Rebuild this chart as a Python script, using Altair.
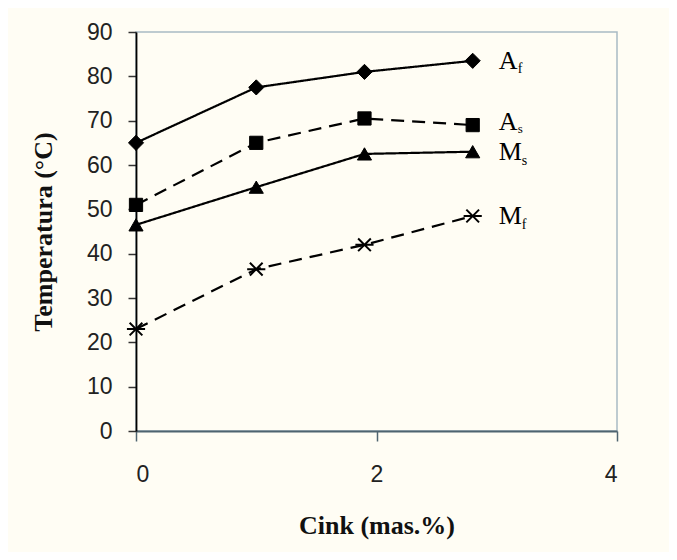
import altair as alt
import pandas as pd

# Data
cink = [0.0, 1.0, 1.9, 2.8]
series_names = ["Af", "As", "Ms", "Mf"]
af = [65.0, 77.5, 81.0, 83.5]
as_ = [51.0, 65.0, 70.5, 69.0]
ms = [46.5, 55.0, 62.5, 63.0]
mf = [23.0, 36.5, 42.0, 48.5]
label_letters = ["A", "A", "M", "M"]
label_subs = ["f", "s", "s", "f"]
x_ticks = [0, 2, 4]
y_ticks = [0, 10, 20, 30, 40, 50, 60, 70, 80, 90]

values = {"Af": af, "As": as_, "Ms": ms, "Mf": mf}
rows = []
for s in series_names:
    for x, y in zip(cink, values[s]):
        rows.append({"series": s, "x": x, "y": y})
df = pd.DataFrame(rows)

lab = pd.DataFrame({
    "series": series_names,
    "letter": label_letters,
    "sub": label_subs,
    "x": [cink[-1]] * 4,
    "y": [values[s][-1] for s in series_names],
})

asterisk = "M-1,0L1,0M-0.7,-0.7L0.7,0.7M-0.7,0.7L0.7,-0.7"

xenc = alt.X("x:Q", scale=alt.Scale(domain=[0, 4], nice=False),
             axis=alt.Axis(values=x_ticks, format="d", title="Cink (mas.%)", grid=False,
                           domainColor="#4f6470", tickColor="#4f6470",
                           tickSize=10, labelPadding=22, titlePadding=26))
yenc = alt.Y("y:Q", scale=alt.Scale(domain=[0, 90], nice=False),
             axis=alt.Axis(values=y_ticks, format="d", title="Temperatura (°C)", grid=False,
                           domainColor="black", tickColor="#333333",
                           tickSize=8, labelPadding=16, titlePadding=30))

lines = alt.Chart(df).mark_line(color="black", strokeWidth=2.2).encode(
    x=xenc, y=yenc,
    strokeDash=alt.StrokeDash("series:N",
                              scale=alt.Scale(domain=series_names,
                                              range=[[1, 0], [13, 8], [1, 0], [13, 8]]),
                              legend=None),
    detail="series:N",
)


def pts(series, shape, size, filled=True):
    base = alt.Chart(df).transform_filter(alt.datum.series == series)
    if filled:
        m = base.mark_point(shape=shape, size=size, filled=True, fill="black",
                            stroke="black", strokeWidth=1, opacity=1)
    else:
        m = base.mark_point(shape=shape, size=size, filled=False,
                            stroke="black", strokeWidth=2, opacity=1)
    return m.encode(x="x:Q", y="y:Q")


p_af = pts("Af", "diamond", 230)
p_as = pts("As", "square", 175)
p_ms = pts("Ms", "triangle-up", 200)
p_mf = pts("Mf", asterisk, 330, filled=False)

is_as = alt.datum.series == "As"
not_as = alt.datum.series != "As"

main_lab = alt.Chart(lab).transform_filter(not_as).mark_text(
    align="left", baseline="middle", dx=26,
    font="Liberation Serif", fontSize=26, color="black").encode(
    x="x:Q", y="y:Q", text="letter:N")

as_lab = alt.Chart(lab).transform_filter(is_as).mark_text(
    align="left", baseline="middle", dx=26, dy=-3,
    font="Liberation Serif", fontSize=26, color="black").encode(
    x="x:Q", y="y:Q", text="letter:N")

sub_af = alt.Chart(lab).transform_filter(alt.datum.series == "Af").mark_text(
    align="left", baseline="middle", dx=45, dy=8,
    font="Liberation Serif", fontSize=14, color="black").encode(
    x="x:Q", y="y:Q", text="sub:N")

sub_as = alt.Chart(lab).transform_filter(is_as).mark_text(
    align="left", baseline="middle", dx=45, dy=4,
    font="Liberation Serif", fontSize=13, color="black").encode(
    x="x:Q", y="y:Q", text="sub:N")

sub_m = alt.Chart(lab).transform_filter(alt.datum.letter == "M").mark_text(
    align="left", baseline="middle", dx=49, dy=9,
    font="Liberation Serif", fontSize=14, color="black").encode(
    x="x:Q", y="y:Q", text="sub:N")

chart = alt.layer(lines, p_af, p_as, p_ms, p_mf, main_lab, as_lab,
                  sub_af, sub_as, sub_m).properties(
    width=481, height=399,
    autosize=alt.AutoSizeParams(type="none"),
    padding={"left": 128, "top": 24, "right": 52, "bottom": 121},
    background="#fffdf4",
).configure_view(
    stroke="#a9bac4", strokeWidth=1.5,
).configure_axis(
    labelFont="Liberation Sans", labelFontSize=23, labelColor="#222222",
    titleFont="Liberation Serif", titleFontSize=26, titleFontWeight="bold",
    titleColor="#111111", domainWidth=1.8, tickWidth=1.5,
)

chart.save("out.html", embed_options={"renderer": "svg", "actions": False})
